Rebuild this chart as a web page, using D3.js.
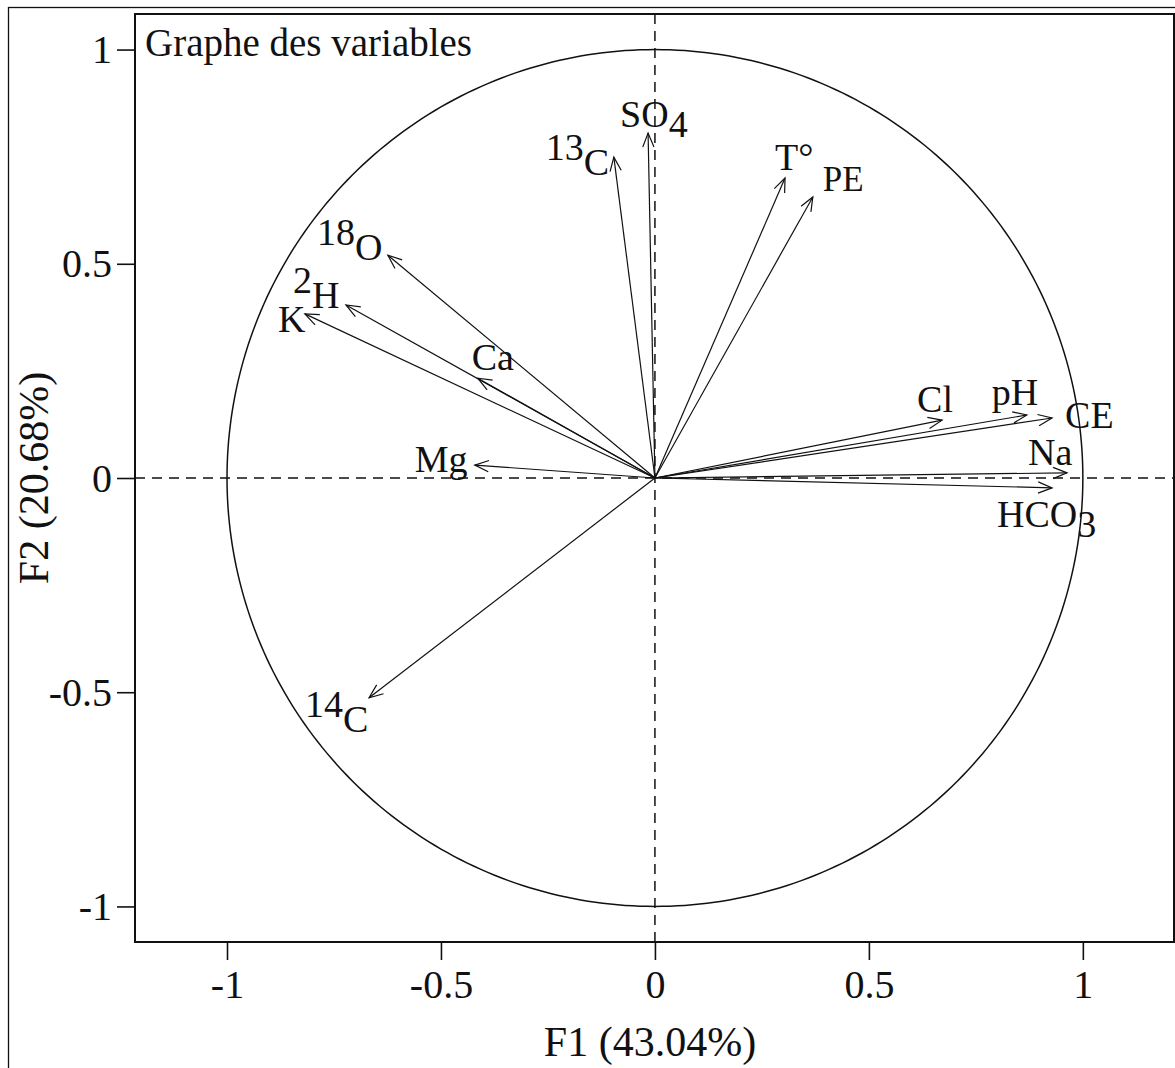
<!DOCTYPE html>
<html><head><meta charset="utf-8">
<script src="https://cdn.jsdelivr.net/npm/d3@7"></script>
<style>html,body{margin:0;padding:0;background:#fff}</style>
</head><body>
<svg id="c" width="1175" height="1068"></svg>
<script>
// ---- data ----
const variables = ["SO_{4}", "^{13}C", "T°", "PE", "^{18}O", "^{2}H", "K", "Ca", "Mg", "^{14}C", "Cl", "pH", "CE", "Na", "HCO_{3}"];
const f1 = [-0.016, -0.096, 0.304, 0.369, -0.624, -0.722, -0.818, -0.414, -0.421, -0.668, 0.671, 0.869, 0.928, 0.963, 0.928];
const f2 = [0.805, 0.749, 0.700, 0.656, 0.520, 0.404, 0.383, 0.233, 0.030, -0.513, 0.135, 0.147, 0.140, 0.012, -0.023];
const xTicks = [-1, -0.5, 0, 0.5, 1];
const yTicks = [-1, -0.5, 0, 0.5, 1];
const xTitle = "F1 (43.04%)";
const yTitle = "F2 (20.68%)";
const chartTitle = "Graphe des variables";

// ---- layout (label nudges in px from arrow tip: left x, baseline y) ----
const labelNudge = {
  "SO_{4}": [-28, -6], "^{13}C": [-68, 18], "T°": [-10, -8], "PE": [10, -6],
  "^{18}O": [-71, 5], "^{2}H": [-53, 3], "K": [-27, 18], "Ca": [-6, -8],
  "Mg": [-60, 7], "^{14}C": [-64, 34], "Cl": [-25, -8], "pH": [-35, -10],
  "CE": [13, 10], "Na": [-39, -8], "HCO_{3}": [-55, 39]
};
const labelSize = {"PE": 35};

const svg = d3.select("#c");
const FONT = "'Liberation Serif','Times New Roman',serif";
const L = 135, R = 1174, T = 14, B = 942;
const x = d3.scaleLinear().domain([-1.215, 1.213]).range([L, R]);
const y = d3.scaleLinear().domain([-1.083, 1.083]).range([B, T]);
const ink = "#111";

// outer frame
svg.append("rect").attr("x", 8.5).attr("y", 7.5).attr("width", 1180).attr("height", 1080)
  .attr("fill", "none").attr("stroke", ink).attr("stroke-width", 1.3);

// axes
const xAxis = d3.axisBottom(x).tickValues(xTicks).tickSize(18).tickPadding(6)
  .tickFormat(d => d3.format("")(d).replace("−", "-"));
const gx = svg.append("g").attr("transform", `translate(0,${B})`).call(xAxis);
gx.select(".domain").remove();
gx.selectAll("line").attr("stroke", ink).attr("stroke-width", 1.6);
gx.selectAll("text").attr("font-family", FONT).attr("font-size", 40).attr("fill", ink).attr("dy", "0.8em");

const yAxis = d3.axisLeft(y).tickValues(yTicks).tickSize(18).tickPadding(5)
  .tickFormat(d => d3.format("")(d).replace("−", "-"));
const gy = svg.append("g").attr("transform", `translate(${L},0)`).call(yAxis);
gy.select(".domain").remove();
gy.selectAll("line").attr("stroke", ink).attr("stroke-width", 1.6);
gy.selectAll("text").attr("font-family", FONT).attr("font-size", 40).attr("fill", ink).attr("dy", "0.33em");

// plot box
svg.append("rect").attr("x", L).attr("y", T).attr("width", R - L).attr("height", B - T)
  .attr("fill", "none").attr("stroke", ink).attr("stroke-width", 2);

// dashed zero lines
svg.append("line").attr("x1", x(0)).attr("x2", x(0)).attr("y1", T).attr("y2", B)
  .attr("stroke", ink).attr("stroke-width", 1.5).attr("stroke-dasharray", "10,7");
svg.append("line").attr("x1", L).attr("x2", R).attr("y1", y(0)).attr("y2", y(0))
  .attr("stroke", ink).attr("stroke-width", 1.5).attr("stroke-dasharray", "10,7");

// unit circle
const angles = d3.range(0, 361, 1);
svg.append("path").datum(angles)
  .attr("d", d3.line().x(a => x(Math.cos(a * Math.PI / 180))).y(a => y(Math.sin(a * Math.PI / 180))))
  .attr("fill", "none").attr("stroke", ink).attr("stroke-width", 1.5);

// arrows
const data = variables.map((v, i) => ({name: v, a: f1[i], b: f2[i]}));
const gA = svg.append("g");
data.forEach(d => {
  const x0 = x(0), y0 = y(0), x1 = x(d.a), y1 = y(d.b);
  gA.append("line").attr("x1", x0).attr("y1", y0).attr("x2", x1).attr("y2", y1)
    .attr("stroke", ink).attr("stroke-width", 1.2);
  const ang = Math.atan2(y1 - y0, x1 - x0);
  const hl = 15, ha = 22 * Math.PI / 180;
  const p1 = [x1 - hl * Math.cos(ang - ha), y1 - hl * Math.sin(ang - ha)];
  const p2 = [x1 - hl * Math.cos(ang + ha), y1 - hl * Math.sin(ang + ha)];
  gA.append("path").attr("d", `M${p1[0]},${p1[1]}L${x1},${y1}L${p2[0]},${p2[1]}`)
    .attr("fill", "none").attr("stroke", ink).attr("stroke-width", 1.2);
});

// labels
function parseLabel(s) {
  const parts = [];
  const re = /(\^\{([^}]*)\})|(_\{([^}]*)\})|([^\^_]+)/g;
  let m;
  while ((m = re.exec(s)) !== null) {
    if (m[2] !== undefined) parts.push({t: m[2], k: "sup"});
    else if (m[4] !== undefined) parts.push({t: m[4], k: "sub"});
    else parts.push({t: m[5], k: "n"});
  }
  return parts;
}
data.forEach(d => {
  const [dx, dy] = labelNudge[d.name];
  const fs = labelSize[d.name] || 38;
  const t = svg.append("text").attr("x", x(d.a) + dx).attr("y", y(d.b) + dy)
    .attr("font-family", FONT).attr("font-size", fs).attr("fill", ink);
  let cur = 0;
  parseLabel(d.name).forEach(p => {
    const target = p.k === "sup" ? -15 : p.k === "sub" ? 10 : 0;
    t.append("tspan").attr("dy", target - cur).text(p.t);
    cur = target;
  });
});

// title
svg.append("text").attr("x", 145).attr("y", 56).attr("font-family", FONT).attr("font-size", 39)
  .attr("fill", ink).text(chartTitle);

// axis titles
svg.append("text").attr("x", 650).attr("y", 1056).attr("text-anchor", "middle")
  .attr("font-family", FONT).attr("font-size", 42).attr("fill", ink).text(xTitle);
svg.append("text").attr("transform", `translate(48,478) rotate(-90)`).attr("text-anchor", "middle")
  .attr("font-family", FONT).attr("font-size", 42).attr("fill", ink).text(yTitle);
</script>
</body></html>
